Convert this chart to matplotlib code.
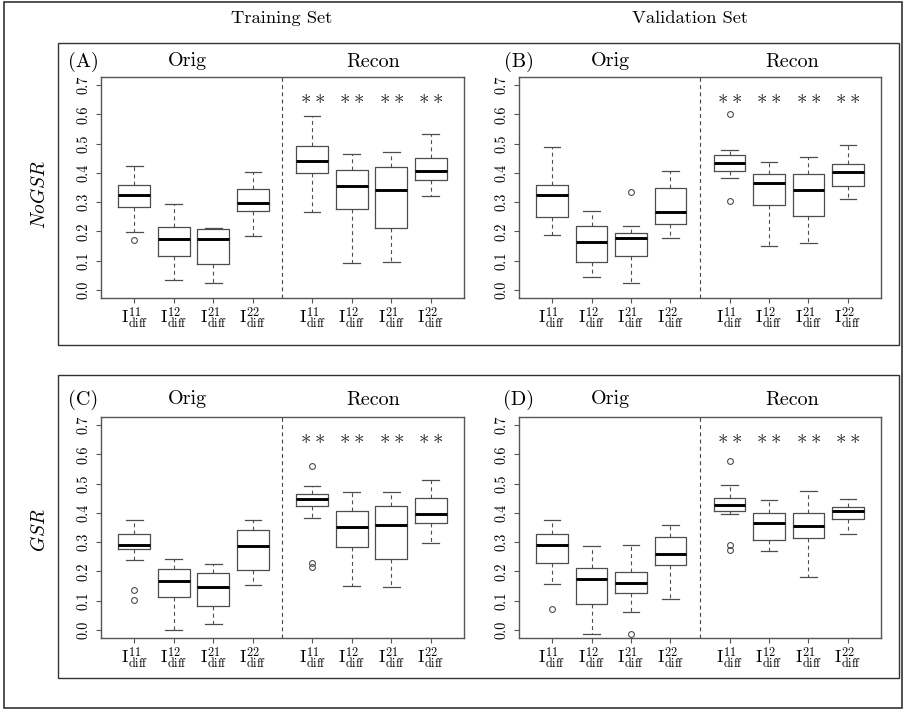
import matplotlib
matplotlib.use("Agg")
import matplotlib.pyplot as plt
from matplotlib.patches import Rectangle

plt.rcParams["font.family"] = ["cmr10", "DejaVu Serif"]
plt.rcParams["mathtext.fontset"] = "cm"
plt.rcParams["axes.formatter.use_mathtext"] = True

W, H = 904, 709

# ---- data: five-number summaries per box (Orig 11,12,21,22 then Recon 11,12,21,22)
box_labels = [r"$\mathrm{I}^{11}_{\mathrm{diff}}$", r"$\mathrm{I}^{12}_{\mathrm{diff}}$",
              r"$\mathrm{I}^{21}_{\mathrm{diff}}$", r"$\mathrm{I}^{22}_{\mathrm{diff}}$"] * 2
positions = [1, 2, 3, 4, 5.5, 6.5, 7.5, 8.5]
yticks = [0.0, 0.1, 0.2, 0.3, 0.4, 0.5, 0.6, 0.7]
ytick_labels = ["0.0", "0.1", "0.2", "0.3", "0.4", "0.5", "0.6", "0.7"]
star_level = 0.655

# (A) Training set, NoGSR
a_whislo = [0.198, 0.034, 0.025, 0.184, 0.266, 0.091, 0.094, 0.321]
a_q1     = [0.285, 0.114, 0.089, 0.270, 0.401, 0.277, 0.211, 0.376]
a_med    = [0.325, 0.175, 0.175, 0.296, 0.442, 0.354, 0.343, 0.407]
a_q3     = [0.357, 0.214, 0.207, 0.344, 0.492, 0.409, 0.420, 0.451]
a_whishi = [0.424, 0.293, 0.212, 0.403, 0.595, 0.465, 0.470, 0.533]
a_fliers = [[0.171], [], [], [], [], [], [], []]

# (B) Validation set, NoGSR
b_whislo = [0.187, 0.044, 0.022, 0.177, 0.381, 0.151, 0.160, 0.312]
b_q1     = [0.250, 0.094, 0.117, 0.224, 0.405, 0.289, 0.251, 0.356]
b_med    = [0.324, 0.165, 0.176, 0.267, 0.433, 0.367, 0.341, 0.403]
b_q3     = [0.358, 0.220, 0.196, 0.348, 0.460, 0.395, 0.397, 0.430]
b_whishi = [0.488, 0.268, 0.217, 0.408, 0.479, 0.437, 0.453, 0.496]
b_fliers = [[], [], [0.336], [], [0.603, 0.303], [], [], []]

# (C) Training set, GSR
c_whislo = [0.238, 0.000, 0.020, 0.152, 0.381, 0.151, 0.146, 0.296]
c_q1     = [0.275, 0.113, 0.081, 0.206, 0.425, 0.284, 0.243, 0.367]
c_med    = [0.291, 0.167, 0.148, 0.286, 0.447, 0.352, 0.357, 0.396]
c_q3     = [0.328, 0.208, 0.195, 0.340, 0.465, 0.406, 0.425, 0.452]
c_whishi = [0.377, 0.243, 0.226, 0.377, 0.491, 0.473, 0.473, 0.512]
c_fliers = [[0.135, 0.102], [], [], [], [0.561, 0.228, 0.214], [], [], []]

# (D) Validation set, GSR
d_whislo = [0.156, -0.016, 0.060, 0.105, 0.396, 0.268, 0.182, 0.328]
d_q1     = [0.230, 0.089, 0.125, 0.223, 0.406, 0.306, 0.313, 0.379]
d_med    = [0.290, 0.175, 0.159, 0.259, 0.427, 0.365, 0.355, 0.406]
d_q3     = [0.329, 0.213, 0.199, 0.316, 0.452, 0.398, 0.400, 0.421]
d_whishi = [0.374, 0.288, 0.290, 0.359, 0.494, 0.443, 0.476, 0.447]
d_fliers = [[0.071], [], [-0.014], [], [0.578, 0.290, 0.273], [], [], []]

panels = [
    ("(A)", (101, 77, 464, 298), a_whislo, a_q1, a_med, a_q3, a_whishi, a_fliers),
    ("(B)", (519, 77, 881, 298), b_whislo, b_q1, b_med, b_q3, b_whishi, b_fliers),
    ("(C)", (101, 417, 464, 638), c_whislo, c_q1, c_med, c_q3, c_whishi, c_fliers),
    ("(D)", (519, 417, 881, 638), d_whislo, d_q1, d_med, d_q3, d_whishi, d_fliers),
]

FRAME = "#555555"
BOXC = "#4d4d4d"

fig = plt.figure(figsize=(W / 100, H / 100), dpi=100)


def rect(l, t, r, b):
    return [l / W, 1 - b / H, (r - l) / W, (b - t) / H]


def ftext(x, y, s, **kw):
    fig.text(x / W, 1 - y / H, s, ha="center", va="center", **kw)


for tag, (l, t, r, b), wlo, q1, med, q3, whi, fl in panels:
    ax = fig.add_axes(rect(l, t, r, b))
    stats = [dict(whislo=wlo[i], q1=q1[i], med=med[i], q3=q3[i], whishi=whi[i],
                  fliers=fl[i]) for i in range(len(positions))]
    ax.bxp(stats, positions=positions, widths=0.8, capwidths=0.42,
           boxprops=dict(color=BOXC, linewidth=0.9),
           medianprops=dict(color="black", linewidth=2.1, solid_capstyle="butt"),
           whiskerprops=dict(color=BOXC, linewidth=0.8, linestyle=(0, (3.5, 3.0))),
           capprops=dict(color=BOXC, linewidth=0.9),
           flierprops=dict(marker="o", markersize=4.2, markerfacecolor="none",
                           markeredgecolor=BOXC, markeredgewidth=0.8))
    ax.axvline(4.75, color="#444444", linewidth=0.8, linestyle=(0, (3.5, 3.0)))
    for p in positions[4:]:
        ax.text(p, star_level, r"$\ast\ast$", ha="center", va="center",
                fontsize=15, color="#222222")
    ax.set_xlim(0.16, 9.34)
    ax.set_ylim(-0.028, 0.728)
    ax.set_xticks(positions)
    ax.set_xticklabels(box_labels, fontsize=12.5)
    ax.set_yticks(yticks)
    ax.set_yticklabels(ytick_labels, rotation=90, va="center", fontsize=10.3)
    ax.tick_params(axis="both", length=3.5, width=0.8, color=FRAME, pad=4)
    ax.tick_params(axis="x", pad=1.5)
    for s in ax.spines.values():
        s.set_color(FRAME)
        s.set_linewidth(1.0)

# panel headings
for tag, x, y in [("(A)", 83, 62), ("(B)", 519, 62), ("(C)", 83, 400), ("(D)", 519, 400)]:
    ftext(x, y, tag, fontsize=14.5)
for x, y in [(187, 61), (610, 61), (187, 399), (610, 399)]:
    ftext(x, y, "Orig", fontsize=14.5)
for x, y in [(373, 62), (792, 62), (373, 400), (792, 400)]:
    ftext(x, y, "Recon", fontsize=14.5)

ftext(282, 18, "Training Set", fontsize=13.3)
ftext(690, 18, "Validation Set", fontsize=13.3)
ftext(40, 195, r"$\mathit{NoGSR}$", fontsize=14, rotation=90)
ftext(40, 530, r"$\mathit{GSR}$", fontsize=14, rotation=90)

# row frames and outer border
for (l, t, r, b) in [(58, 43, 899, 345), (58, 375, 899, 678)]:
    fig.add_artist(Rectangle((l / W, 1 - b / H), (r - l) / W, (b - t) / H,
                             transform=fig.transFigure, fill=False,
                             edgecolor="#333333", linewidth=1.0))
fig.add_artist(Rectangle((4 / W, 1.5 / H), (902 - 4) / W, (707 - 1.5) / H,
                         transform=fig.transFigure, fill=False,
                         edgecolor="#333333", linewidth=1.2))

fig.savefig("out.png", dpi=100)
